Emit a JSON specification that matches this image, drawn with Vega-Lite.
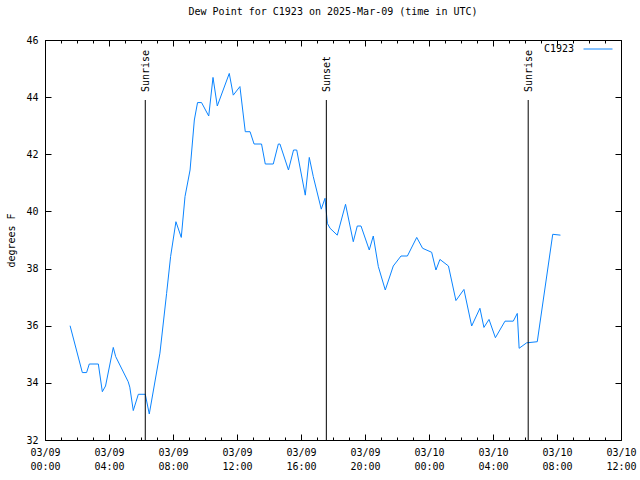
{
  "$schema": "https://vega.github.io/schema/vega-lite/v6.json",
  "width": 576,
  "height": 400,
  "autosize": {"type": "none"},
  "padding": {"left": 45, "top": 40, "right": 19, "bottom": 40},
  "background": "white",
  "title": {"text": "Dew Point for C1923 on 2025-Mar-09 (time in UTC)", "font": "DejaVu Sans Mono", "fontSize": 10, "fontWeight": "normal", "color": "black", "anchor": "middle", "offset": 17},
  "config": {
    "view": {"stroke": "black", "strokeWidth": 1},
    "axis": {"grid": false, "domain": false, "labelFont": "DejaVu Sans Mono", "labelFontSize": 10, "labelColor": "black", "tickColor": "black", "tickWidth": 1, "titleFont": "DejaVu Sans Mono", "titleFontSize": 10, "titleFontWeight": "normal", "titleColor": "black", "labelFlush": false, "labelOverlap": false}
  },
  "datasets": {
    "dew": [
      {"t": "2025-03-09T01:34:00Z", "v": 36.0, "station": "C1923"},
      {"t": "2025-03-09T02:20:00Z", "v": 34.36, "station": "C1923"},
      {"t": "2025-03-09T02:36:00Z", "v": 34.36, "station": "C1923"},
      {"t": "2025-03-09T02:46:00Z", "v": 34.66, "station": "C1923"},
      {"t": "2025-03-09T03:20:00Z", "v": 34.66, "station": "C1923"},
      {"t": "2025-03-09T03:35:00Z", "v": 33.69, "station": "C1923"},
      {"t": "2025-03-09T03:47:00Z", "v": 33.89, "station": "C1923"},
      {"t": "2025-03-09T04:16:00Z", "v": 35.24, "station": "C1923"},
      {"t": "2025-03-09T04:25:00Z", "v": 34.92, "station": "C1923"},
      {"t": "2025-03-09T05:12:00Z", "v": 34.04, "station": "C1923"},
      {"t": "2025-03-09T05:18:00Z", "v": 33.85, "station": "C1923"},
      {"t": "2025-03-09T05:31:00Z", "v": 33.03, "station": "C1923"},
      {"t": "2025-03-09T05:50:00Z", "v": 33.6, "station": "C1923"},
      {"t": "2025-03-09T06:16:00Z", "v": 33.6, "station": "C1923"},
      {"t": "2025-03-09T06:31:00Z", "v": 32.91, "station": "C1923"},
      {"t": "2025-03-09T07:11:00Z", "v": 35.04, "station": "C1923"},
      {"t": "2025-03-09T07:36:00Z", "v": 37.13, "station": "C1923"},
      {"t": "2025-03-09T07:51:00Z", "v": 38.42, "station": "C1923"},
      {"t": "2025-03-09T08:11:00Z", "v": 39.64, "station": "C1923"},
      {"t": "2025-03-09T08:31:00Z", "v": 39.09, "station": "C1923"},
      {"t": "2025-03-09T08:45:00Z", "v": 40.52, "station": "C1923"},
      {"t": "2025-03-09T09:04:00Z", "v": 41.45, "station": "C1923"},
      {"t": "2025-03-09T09:20:00Z", "v": 43.2, "station": "C1923"},
      {"t": "2025-03-09T09:32:00Z", "v": 43.81, "station": "C1923"},
      {"t": "2025-03-09T09:47:00Z", "v": 43.81, "station": "C1923"},
      {"t": "2025-03-09T10:14:00Z", "v": 43.34, "station": "C1923"},
      {"t": "2025-03-09T10:30:00Z", "v": 44.69, "station": "C1923"},
      {"t": "2025-03-09T10:46:00Z", "v": 43.69, "station": "C1923"},
      {"t": "2025-03-09T11:31:00Z", "v": 44.83, "station": "C1923"},
      {"t": "2025-03-09T11:46:00Z", "v": 44.07, "station": "C1923"},
      {"t": "2025-03-09T12:11:00Z", "v": 44.37, "station": "C1923"},
      {"t": "2025-03-09T12:31:00Z", "v": 42.79, "station": "C1923"},
      {"t": "2025-03-09T12:49:00Z", "v": 42.79, "station": "C1923"},
      {"t": "2025-03-09T13:04:00Z", "v": 42.36, "station": "C1923"},
      {"t": "2025-03-09T13:32:00Z", "v": 42.36, "station": "C1923"},
      {"t": "2025-03-09T13:46:00Z", "v": 41.66, "station": "C1923"},
      {"t": "2025-03-09T14:16:00Z", "v": 41.66, "station": "C1923"},
      {"t": "2025-03-09T14:35:00Z", "v": 42.36, "station": "C1923"},
      {"t": "2025-03-09T14:41:00Z", "v": 42.36, "station": "C1923"},
      {"t": "2025-03-09T15:13:00Z", "v": 41.45, "station": "C1923"},
      {"t": "2025-03-09T15:32:00Z", "v": 42.15, "station": "C1923"},
      {"t": "2025-03-09T15:44:00Z", "v": 42.15, "station": "C1923"},
      {"t": "2025-03-09T16:16:00Z", "v": 40.57, "station": "C1923"},
      {"t": "2025-03-09T16:31:00Z", "v": 41.89, "station": "C1923"},
      {"t": "2025-03-09T16:46:00Z", "v": 41.22, "station": "C1923"},
      {"t": "2025-03-09T17:16:00Z", "v": 40.08, "station": "C1923"},
      {"t": "2025-03-09T17:30:00Z", "v": 40.46, "station": "C1923"},
      {"t": "2025-03-09T17:39:00Z", "v": 39.58, "station": "C1923"},
      {"t": "2025-03-09T17:49:00Z", "v": 39.41, "station": "C1923"},
      {"t": "2025-03-09T18:16:00Z", "v": 39.17, "station": "C1923"},
      {"t": "2025-03-09T18:47:00Z", "v": 40.25, "station": "C1923"},
      {"t": "2025-03-09T19:16:00Z", "v": 38.94, "station": "C1923"},
      {"t": "2025-03-09T19:31:00Z", "v": 39.49, "station": "C1923"},
      {"t": "2025-03-09T19:45:00Z", "v": 39.49, "station": "C1923"},
      {"t": "2025-03-09T20:16:00Z", "v": 38.65, "station": "C1923"},
      {"t": "2025-03-09T20:31:00Z", "v": 39.14, "station": "C1923"},
      {"t": "2025-03-09T20:50:00Z", "v": 38.07, "station": "C1923"},
      {"t": "2025-03-09T21:16:00Z", "v": 37.25, "station": "C1923"},
      {"t": "2025-03-09T21:46:00Z", "v": 38.09, "station": "C1923"},
      {"t": "2025-03-09T22:15:00Z", "v": 38.44, "station": "C1923"},
      {"t": "2025-03-09T22:39:00Z", "v": 38.44, "station": "C1923"},
      {"t": "2025-03-09T23:14:00Z", "v": 39.09, "station": "C1923"},
      {"t": "2025-03-09T23:36:00Z", "v": 38.71, "station": "C1923"},
      {"t": "2025-03-10T00:10:00Z", "v": 38.57, "station": "C1923"},
      {"t": "2025-03-10T00:26:00Z", "v": 37.95, "station": "C1923"},
      {"t": "2025-03-10T00:41:00Z", "v": 38.32, "station": "C1923"},
      {"t": "2025-03-10T01:13:00Z", "v": 38.09, "station": "C1923"},
      {"t": "2025-03-10T01:41:00Z", "v": 36.88, "station": "C1923"},
      {"t": "2025-03-10T02:11:00Z", "v": 37.27, "station": "C1923"},
      {"t": "2025-03-10T02:40:00Z", "v": 35.99, "station": "C1923"},
      {"t": "2025-03-10T03:11:00Z", "v": 36.61, "station": "C1923"},
      {"t": "2025-03-10T03:26:00Z", "v": 35.94, "station": "C1923"},
      {"t": "2025-03-10T03:45:00Z", "v": 36.22, "station": "C1923"},
      {"t": "2025-03-10T04:09:00Z", "v": 35.58, "station": "C1923"},
      {"t": "2025-03-10T04:45:00Z", "v": 36.16, "station": "C1923"},
      {"t": "2025-03-10T05:16:00Z", "v": 36.16, "station": "C1923"},
      {"t": "2025-03-10T05:31:00Z", "v": 36.43, "station": "C1923"},
      {"t": "2025-03-10T05:38:00Z", "v": 35.21, "station": "C1923"},
      {"t": "2025-03-10T06:06:00Z", "v": 35.4, "station": "C1923"},
      {"t": "2025-03-10T06:46:00Z", "v": 35.44, "station": "C1923"},
      {"t": "2025-03-10T07:44:00Z", "v": 39.2, "station": "C1923"},
      {"t": "2025-03-10T08:13:00Z", "v": 39.17, "station": "C1923"}
    ],
    "sun": [
      {"t": "2025-03-09T06:16:00Z", "label": "Sunrise"},
      {"t": "2025-03-09T17:35:00Z", "label": "Sunset"},
      {"t": "2025-03-10T06:12:00Z", "label": "Sunrise"}
    ]
  },
  "layer": [
    {
      "data": {"name": "dew"},
      "mark": {"type": "line", "strokeWidth": 1},
      "encoding": {
        "x": {"field": "t", "type": "temporal",
          "scale": {"type": "utc", "domain": [1741478400000, 1741608000000], "nice": false},
          "axis": {"orient": "bottom", "title": null, "tickSize": -6, "labelPadding": 13,
            "values": [1741478400000, 1741492800000, 1741507200000, 1741521600000, 1741536000000, 1741550400000, 1741564800000, 1741579200000, 1741593600000, 1741608000000],
            "labelExpr": "[utcFormat(datum.value, '%m/%d'), utcFormat(datum.value, '%H:%M')]", "labelLineHeight": 14}},
        "y": {"field": "v", "type": "quantitative",
          "scale": {"domain": [32, 46], "nice": false, "zero": false},
          "axis": {"orient": "left", "title": "degrees F", "tickSize": -6, "values": [32, 34, 36, 38, 40, 42, 44, 46], "labelPadding": 13, "titlePadding": 9}},
        "color": {"field": "station", "type": "nominal",
          "scale": {"range": ["#0a84ff"]},
          "legend": {"orient": "none", "legendX": 538, "legendY": -6, "title": null, "symbolType": "stroke", "symbolSize": 841, "symbolStrokeWidth": 1, "labelAlign": "right", "labelOffset": -39, "labelFont": "DejaVu Sans Mono", "labelFontSize": 10, "labelColor": "black", "padding": 0}}
      }
    },
    {
      "data": {"name": "sun"},
      "mark": {"type": "rule", "color": "black", "strokeWidth": 1},
      "encoding": {
        "x": {"field": "t", "type": "temporal",
          "axis": {"orient": "top", "title": null, "labels": false, "tickSize": -6,
            "values": [1741478400000, 1741492800000, 1741507200000, 1741521600000, 1741536000000, 1741550400000, 1741564800000, 1741579200000, 1741593600000, 1741608000000]}},
        "y": {"datum": 32, "type": "quantitative",
          "axis": {"orient": "right", "title": null, "labels": false, "tickSize": -6, "values": [32, 34, 36, 38, 40, 42, 44, 46]}},
        "y2": {"datum": 43.9}
      }
    },
    {
      "data": {"name": "sun"},
      "mark": {"type": "text", "angle": 270, "align": "left", "baseline": "middle", "dy": 1, "font": "DejaVu Sans Mono", "fontSize": 10, "color": "black"},
      "encoding": {
        "x": {"field": "t", "type": "temporal",
          "axis": {"orient": "bottom", "title": null, "labels": false, "tickSize": -3,
            "values": [1741478400000, 1741482000000, 1741485600000, 1741489200000, 1741492800000, 1741496400000, 1741500000000, 1741503600000, 1741507200000, 1741510800000, 1741514400000, 1741518000000, 1741521600000, 1741525200000, 1741528800000, 1741532400000, 1741536000000, 1741539600000, 1741543200000, 1741546800000, 1741550400000, 1741554000000, 1741557600000, 1741561200000, 1741564800000, 1741568400000, 1741572000000, 1741575600000, 1741579200000, 1741582800000, 1741586400000, 1741590000000, 1741593600000, 1741597200000, 1741600800000, 1741604400000, 1741608000000]}},
        "y": {"datum": 44.18, "type": "quantitative", "axis": null},
        "text": {"field": "label"}
      }
    },
    {
      "data": {"name": "sun"},
      "mark": {"type": "point", "opacity": 0},
      "encoding": {
        "x": {"field": "t", "type": "temporal",
          "axis": {"orient": "top", "title": null, "labels": false, "tickSize": -3,
            "values": [1741478400000, 1741482000000, 1741485600000, 1741489200000, 1741492800000, 1741496400000, 1741500000000, 1741503600000, 1741507200000, 1741510800000, 1741514400000, 1741518000000, 1741521600000, 1741525200000, 1741528800000, 1741532400000, 1741536000000, 1741539600000, 1741543200000, 1741546800000, 1741550400000, 1741554000000, 1741557600000, 1741561200000, 1741564800000, 1741568400000, 1741572000000, 1741575600000, 1741579200000, 1741582800000, 1741586400000, 1741590000000, 1741593600000, 1741597200000, 1741600800000, 1741604400000, 1741608000000]}}
      }
    }
  ],
  "resolve": {"axis": {"x": "independent", "y": "independent"}}
}
